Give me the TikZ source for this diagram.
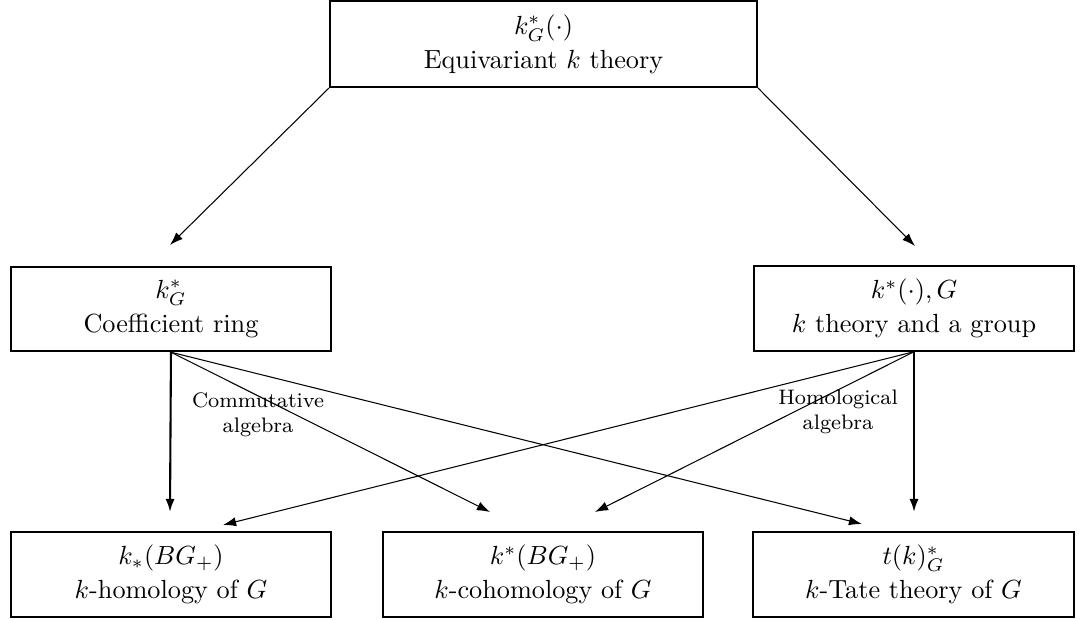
\documentclass[tikz,border=0pt]{standalone}
\usetikzlibrary{positioning,arrows.meta}

\begin{document}
\begin{tikzpicture}[
		box/.style={draw,thick,align=center,minimum width=4.29cm,minimum height=1.13cm,inner sep=2pt},
		arr/.style={thin,-{Latex[length=5pt,width=3.5pt]}},
		varr/.style={thick,-{Latex[length=5pt,width=3.5pt]}},
		note/.style={font=\footnotesize,align=center,inner sep=1pt}
	]
		\useasboundingbox (0,0) rectangle (14.606,8.295);
		\node[box,minimum width=5.72cm,minimum height=1.15cm] (eq) at (7.283,7.705) {$k^*_G(\cdot)$\\[1pt]Equivariant $k$ theory};
		\node[box] (coef) at (2.291,4.154) {$k^*_G$\\[1pt]Coefficient ring};
		\node[box] (kg) at (12.248,4.161) {$k^*(\cdot),G$\\[1pt]$k$ theory and a group};
		\node[box,minimum height=1.14cm] (hom) at (2.291,0.596) {$k_*(BG_+)$\\[1pt]$k$-homology of $G$};
		\node[box,minimum height=1.14cm] (coh) at (7.276,0.596) {$k^*(BG_+)$\\[1pt]$k$-cohomology of $G$};
		\node[box,minimum height=1.14cm] (tate) at (12.241,0.596) {$t(k)^*_G$\\[1pt]$k$-Tate theory of $G$};
		% free ends of the arrows
		\coordinate (coefin) at (2.278,5.012);
		\coordinate (kgin) at (12.261,4.998);
		\coordinate (homa) at (2.278,1.434);
		\coordinate (homb) at (2.988,1.260);
		\coordinate (coha) at (6.566,1.434);
		\coordinate (cohb) at (7.973,1.434);
		\coordinate (tatea) at (11.551,1.273);
		\coordinate (tateb) at (12.248,1.434);
		\draw[arr] (eq.south west)--(coefin);
		\draw[arr] (eq.south east)--(kgin);
		\draw[varr] (coef.south)--(homa);
		\draw[arr] (coef.south)--(coha);
		\draw[arr] (coef.south)--(tatea);
		\draw[varr] (kg.south)--(tateb);
		\draw[arr] (kg.south)--(cohb);
		\draw[arr] (kg.south)--(homb);
		\node[note] (comm) at (3.457,2.734) {Commutative\\algebra};
		\node[note] (homl) at (11.229,2.774) {Homological\\algebra};
	\end{tikzpicture}
\end{document}
